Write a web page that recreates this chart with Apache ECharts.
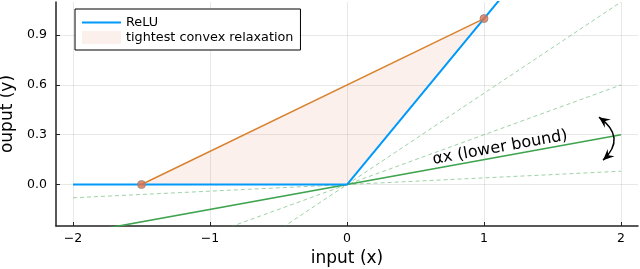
<!DOCTYPE html>
<html><head><meta charset="utf-8">
<script src="https://cdn.jsdelivr.net/npm/echarts@6/dist/echarts.min.js"></script>
<style>html,body{margin:0;padding:0;background:#fff}#c{width:640px;height:269px}</style>
</head><body><div id="c"></div>
<script>
// ---- data ----
const xTicks = [-2, -1, 0, 1, 2];
const yTicks = [0, 0.3, 0.6, 0.9];
const xRange = [-2.124, 2.124];
const yRange = [-0.25, 1.1];

const reluPts = [[-2, 0], [0, 0], [2, 2]];
const relaxLinePts = [[-1.5, 0], [1, 1]];
const relaxPolygon = [[-1.5, 0], [1, 1], [0, 0]];
const lowerBoundPts = [[-2, -0.3], [2, 0.3]];
const dashedA = [[-2, -0.08], [2, 0.08]];
const dashedB = [[-2, -0.6], [2, 0.6]];
const dashedC = [[-2, -1.1], [2, 1.1]];

const labelPos = [1.117, 0.222];
const arrowFrom = [1.839, 0.406];
const arrowCtrl = [2.044, 0.283];
const arrowTo = [1.869, 0.147];

const FONT = 'DejaVu Sans';
const BLUE = '#009AFA', ORANGE = '#D9822F', MARK = '#E36F47', GREEN = '#3EA44E';
const FILL = 'rgba(227,111,71,0.1)';
const DASH = 'rgba(62,164,78,0.5)';

const chart = echarts.init(document.getElementById('c'), null, {renderer: 'canvas'});

function dashed(name, pts) {
  return {type: 'line', name, data: pts, symbol: 'none', silent: true, z: 2,
    lineStyle: {color: DASH, width: 1, type: [4, 3]}};
}

function arrowHead(tip, from) {
  const dx = tip[0] - from[0], dy = tip[1] - from[1];
  const L = Math.hypot(dx, dy), ux = dx / L, uy = dy / L;
  const px = -uy, py = ux;
  const len = 11, hw = 5, ind = 4;
  const bx = tip[0] - ux * len, by = tip[1] - uy * len;
  return {type: 'polygon', shape: {points: [
    tip,
    [bx + px * hw, by + py * hw],
    [tip[0] - ux * (len - ind), tip[1] - uy * (len - ind)],
    [bx - px * hw, by - py * hw]
  ]}, style: {fill: '#000'}};
}

const option = {
  animation: false,
  backgroundColor: '#fff',
  textStyle: {fontFamily: FONT},
  grid: {left: 56, right: 2, top: 2, bottom: 43, containLabel: false, outerBoundsMode: 'none'},
  legend: {
    orient: 'vertical', left: 75, top: 9,
    padding: [7, 7, 6, 7], itemGap: 2, itemWidth: 39, itemHeight: 13,
    borderColor: '#000', borderWidth: 1, backgroundColor: '#fff',
    textStyle: {fontFamily: FONT, fontSize: 12.8, color: '#000'},
    data: [
      {name: 'ReLU', icon: 'path://M0,0 L40,0 L40,2.2 L0,2.2 Z', itemStyle: {color: BLUE}},
      {name: 'tightest convex relaxation', icon: 'rect', itemStyle: {color: FILL}}
    ]
  },
  xAxis: {
    type: 'value', min: xRange[0], max: xRange[1],
    name: 'input (x)', nameLocation: 'middle', nameGap: 22,
    nameTextStyle: {fontFamily: FONT, fontSize: 17, color: '#000'},
    axisLine: {show: true, onZero: false, lineStyle: {color: '#222', width: 1.5}},
    axisTick: {show: true, inside: true, length: 4, customValues: xTicks, lineStyle: {color: '#222'}},
    axisLabel: {customValues: xTicks, margin: 6, fontSize: 12.5, color: '#000', fontFamily: FONT,
      formatter: v => v < 0 ? '\u2212' + Math.abs(v) : String(v)},
    splitLine: {show: true, lineStyle: {color: 'rgba(0,0,0,0.09)', width: 1}}
  },
  yAxis: {
    type: 'value', min: yRange[0], max: yRange[1],
    name: 'ouput (y)', nameLocation: 'middle', nameGap: 34, nameRotate: 90,
    nameTextStyle: {fontFamily: FONT, fontSize: 17, color: '#000'},
    axisLine: {show: true, onZero: false, lineStyle: {color: '#222', width: 1.5}},
    axisTick: {show: true, inside: true, length: 4, customValues: yTicks, lineStyle: {color: '#222'}},
    axisLabel: {customValues: yTicks, margin: 9, fontSize: 12.5, color: '#000', fontFamily: FONT,
      formatter: v => v.toFixed(1)},
    splitLine: {show: true, lineStyle: {color: 'rgba(0,0,0,0.09)', width: 1}}
  },
  series: [
    {
      type: 'custom', name: 'tightest convex relaxation', data: relaxPolygon, z: 1, clip: true,
      itemStyle: {color: FILL},
      renderItem(params, api) {
        if (params.dataIndex !== 0) return null;
        return {type: 'polygon', shape: {points: relaxPolygon.map(p => api.coord(p))},
          style: {fill: FILL}};
      }
    },
    dashed('a1', dashedA),
    dashed('a2', dashedB),
    dashed('a3', dashedC),
    {type: 'line', name: 'lower', data: lowerBoundPts, symbol: 'none', z: 3,
      lineStyle: {color: GREEN, width: 1.6}},
    {type: 'line', name: 'upper', data: relaxLinePts, symbol: 'none', z: 3,
      lineStyle: {color: ORANGE, width: 1.5}},
    {type: 'line', name: 'ReLU', data: reluPts, symbol: 'none', z: 4,
      itemStyle: {color: BLUE}, lineStyle: {color: BLUE, width: 2}},
    {type: 'scatter', name: 'ends', data: relaxLinePts, symbol: 'circle', symbolSize: 8, z: 5,
      itemStyle: {color: MARK, borderColor: '#888', borderWidth: 1}},
    {
      type: 'custom', name: 'annot', data: [labelPos], z: 6, clip: false, silent: true,
      renderItem(params, api) {
        const a = api.coord(lowerBoundPts[0]), b = api.coord(lowerBoundPts[1]);
        const rot = Math.atan2(a[1] - b[1], b[0] - a[0]);
        const p = api.coord(labelPos);
        const s = api.coord(arrowFrom), c = api.coord(arrowCtrl), e = api.coord(arrowTo);
        return {type: 'group', children: [
          {type: 'text', x: p[0], y: p[1], rotation: rot,
            style: {text: '\u03b1x (lower bound)', fill: '#000', font: '16px ' + FONT,
              align: 'center', verticalAlign: 'middle'}},
          {type: 'bezierCurve', shape: {x1: s[0], y1: s[1], x2: e[0], y2: e[1], cpx1: c[0], cpy1: c[1]},
            style: {stroke: '#000', lineWidth: 1.5, fill: null}},
          arrowHead(s, c),
          arrowHead(e, c)
        ]};
      }
    }
  ]
};
chart.setOption(option);
</script>
</body></html>
